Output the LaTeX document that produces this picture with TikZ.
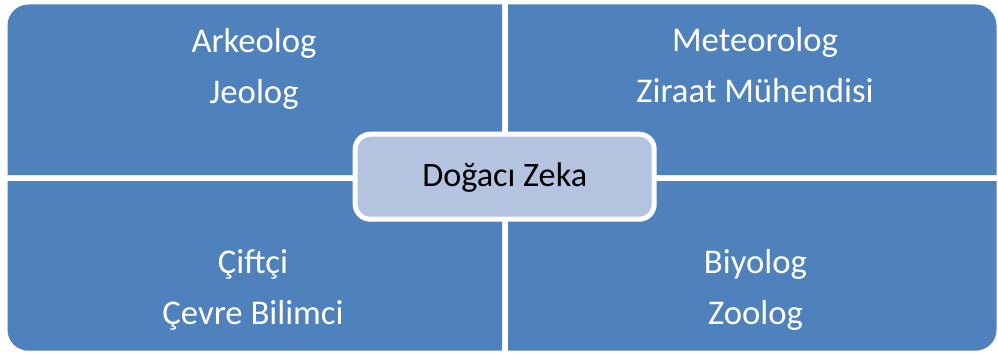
\documentclass[tikz,border=0pt]{standalone}
\usepackage{fontspec}
\setmainfont{Carlito}
\definecolor{quad}{HTML}{4F81BD}
\definecolor{hub}{HTML}{B3C3E0}
\begin{document}
\begin{tikzpicture}[x=1pt,y=1pt,
  quadtext/.style={anchor=base,text=white,inner sep=0pt,font=\fontsize{34.7}{40}\selectfont},
  hubbox/.style={draw=white,line width=5pt,fill=hub,rounded corners=15pt,minimum width=299pt,minimum height=85pt,inner sep=0pt},
  hubtext/.style={anchor=base,text=black,inner sep=0pt,font=\fontsize{34.2}{40}\selectfont}]
\useasboundingbox (0,0) rectangle (998,354);
% quadrants
\fill[quad] (7.5,179) -- (7.5,328.5) arc[start angle=180,end angle=90,radius=21] -- (502,349.5) -- (502,179) -- cycle;
\fill[quad] (508,179) -- (508,349.5) -- (975.5,349.5) arc[start angle=90,end angle=0,radius=21] -- (996.5,179) -- cycle;
\fill[quad] (7.5,173) -- (7.5,24.3) arc[start angle=180,end angle=270,radius=21] -- (502,3.3) -- (502,173) -- cycle;
\fill[quad] (508,173) -- (508,3.3) -- (975.5,3.3) arc[start angle=270,end angle=360,radius=21] -- (996.5,173) -- cycle;
% centre
\node[hubbox] (hub) at (504.7,177.3) {};
\node[hubtext] (hublabel) at (504.7,167.3) {Doğacı Zeka};
% texts
\node[quadtext] (t1) at (254,301.3) {Arkeolog};
\node[quadtext] (t2) at (254,250.7) {Jeolog};
\node[quadtext] (t3) at (755,302.3) {Meteorolog};
\node[quadtext] (t4) at (755,251) {Ziraat Mühendisi};
\node[quadtext] (t5) at (253,80.7) {Çiftçi};
\node[quadtext] (t6) at (253,29.7) {Çevre Bilimci};
\node[quadtext] (t7) at (755.5,81) {Biyolog};
\node[quadtext] (t8) at (755.5,30) {Zoolog};
\end{tikzpicture}
\end{document}
